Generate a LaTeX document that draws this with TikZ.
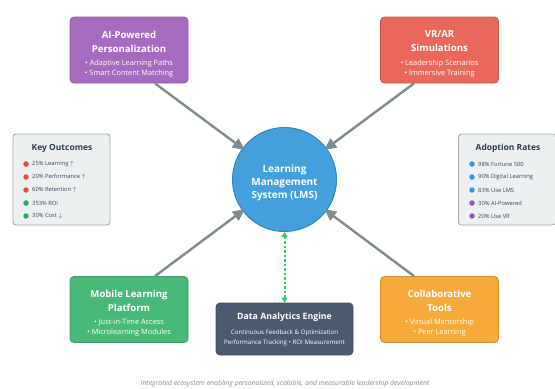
\documentclass[tikz,border=0pt]{standalone}
\usepackage{fontspec}
\setmainfont{Open Sans}
\usetikzlibrary{arrows.meta,calc}
\definecolor{aipurple}{HTML}{A66BBF}
\definecolor{vrred}{HTML}{EA685B}
\definecolor{mobilegreen}{HTML}{48B978}
\definecolor{collaborange}{HTML}{F5AA3A}
\definecolor{dataslate}{HTML}{4A5A6F}
\definecolor{hubblue}{HTML}{43A0DD}
\definecolor{hubline}{HTML}{2F86C3}
\definecolor{panelfill}{HTML}{ECF0F1}
\definecolor{panelline}{HTML}{A2ACAD}
\definecolor{inkdark}{HTML}{2C3E50}
\definecolor{inkmid}{HTML}{34495E}
\definecolor{flowgrey}{HTML}{7F8C8D}
\definecolor{syncgreen}{HTML}{2ECC71}
\definecolor{dotred}{HTML}{E74C3C}
\definecolor{dotgreen}{HTML}{27AE60}
\definecolor{dotblue}{HTML}{3498DB}
\definecolor{dotpurple}{HTML}{9B59B6}
\begin{document}
\begin{tikzpicture}[x=1bp,y=-1bp]
            \tikzstyle{every node}+=[inner sep=0pt]
            \tikzstyle{card}=[draw, rounded corners=4bp, line width=0.8bp, minimum width=118bp, minimum height=66bp]
            \tikzstyle{cardtitle}=[align=center, text=white, font=\fontsize{9.6}{14}\selectfont\bfseries]
            \tikzstyle{cardlist}=[align=center, text=white, font=\fontsize{7.4}{10}\selectfont]
            \tikzstyle{panel}=[draw=panelline, fill=panelfill, rounded corners=3bp, line width=0.9bp, minimum width=97bp, minimum height=91bp]
            \tikzstyle{paneltitle}=[text=inkdark, font=\fontsize{8.5}{10}\selectfont\bfseries]
            \tikzstyle{dot}=[circle, minimum size=5.5bp]
            \tikzstyle{item}=[anchor=west, text=inkmid, font=\fontsize{5.8}{7}\selectfont]
            \tikzstyle{hub}=[circle, minimum size=104bp, fill=hubblue, draw=hubline, line width=1bp]
            \tikzstyle{hubtext}=[align=center, text=white, font=\fontsize{10}{13}\selectfont\bfseries]
            \tikzstyle{feed}=[draw=flowgrey, line width=2.4bp, -{Triangle[length=12bp,width=11bp]}, shorten >=-3bp]
            \tikzstyle{sync}=[draw=syncgreen, line width=2bp, dash pattern=on 2.5bp off 2bp, {Triangle[length=5bp,width=6bp]}-{Triangle[length=5bp,width=6bp]}]
            \tikzstyle{note}=[text=flowgrey, font=\fontsize{6.9}{8}\selectfont\itshape]
            \useasboundingbox (0,0) rectangle (555,388);
            \node [card, fill=aipurple, draw=aipurple!85!black] (ai) at (129,50) {};
            \node [cardtitle] (aititle) at ($(ai)+(0,-8.5)$) {AI-Powered\\Personalization};
            \node [cardlist] (ailist) at ($(ai)+(0,18.5)$) {• Adaptive Learning Paths\\• Smart Content Matching};
            \node [card, fill=vrred, draw=vrred!85!black] (vr) at (439.5,50) {};
            \node [cardtitle] (vrtitle) at ($(vr)+(0,-8.5)$) {VR/AR\\Simulations};
            \node [cardlist] (vrlist) at ($(vr)+(0,18.5)$) {• Leadership Scenarios\\• Immersive Training};
            \node [card, fill=mobilegreen, draw=mobilegreen!85!black] (mobile) at (129,309.5) {};
            \node [cardtitle] (mobiletitle) at ($(mobile)+(0,-8.5)$) {Mobile Learning\\Platform};
            \node [cardlist] (mobilelist) at ($(mobile)+(0,18.5)$) {• Just-in-Time Access\\• Microlearning Modules};
            \node [card, fill=collaborange, draw=collaborange!85!black] (collab) at (439.5,309.5) {};
            \node [cardtitle] (collabtitle) at ($(collab)+(0,-8.5)$) {Collaborative\\Tools};
            \node [cardlist] (collablist) at ($(collab)+(0,18.5)$) {• Virtual Mentorship\\• Peer Learning};
            \node [card, fill=dataslate, draw=dataslate!85!black, minimum width=137bp, minimum height=52bp] (data) at (284.5,329) {};
            \node [cardtitle, font=\fontsize{8.8}{12}\selectfont\bfseries] (datatitle) at ($(data)+(0,-12)$) {Data Analytics Engine};
            \node [cardlist, font=\fontsize{6.2}{10}\selectfont] (datalist) at ($(data)+(0,9)$) {Continuous Feedback \& Optimization\\Performance Tracking • ROI Measurement};
            \node [hub] (lms) at (284.5,179.5) {};
            \node [hubtext] (lmstext) at ($(lms)+(0,3.5)$) {Learning\\Management\\System (LMS)};
            \node [panel] (outcomes) at (61.5,179.5) {};
            \node [paneltitle] (outcomestitle) at (62,148) {Key Outcomes};
            \foreach \txt/\col [count=\i] in {25\% Learning $\uparrow$/dotred, 20\% Performance $\uparrow$/dotred, 60\% Retention $\uparrow$/dotred, 353\% ROI/dotgreen, 30\% Cost $\downarrow$/dotgreen} {
                \node [dot, fill=\col] (outcomedot\i) at (26,151+13*\i) {};
                \node [item] (outcomeitem\i) at (32,151+13*\i) {\txt};
            }
            \node [panel] (adoption) at (507,179.5) {};
            \node [paneltitle] (adoptiontitle) at (508,148) {Adoption Rates};
            \foreach \txt/\col [count=\i] in {98\% Fortune 500/dotblue, 90\% Digital Learning/dotblue, 83\% Use LMS/dotblue, 30\% AI-Powered/dotpurple, 20\% Use VR/dotpurple} {
                \node [dot, fill=\col] (adoptiondot\i) at (472,151+13*\i) {};
                \node [item] (adoptionitem\i) at (478,151+13*\i) {\txt};
            }
            \draw [feed] ($(ai.south)+(26,0)$) -- (lms);
            \draw [feed] ($(vr.south)+(-25.5,0)$) -- (lms);
            \draw [feed] ($(mobile.north)+(26,0)$) -- (lms);
            \draw [feed] ($(collab.north)+(-25.5,0)$) -- (lms);
            \draw [sync] (lms) -- (data);
            \node [note] (caption) at (285,384) {Integrated ecosystem enabling personalized, scalable, and measurable leadership development};
\end{tikzpicture}
\end{document}
